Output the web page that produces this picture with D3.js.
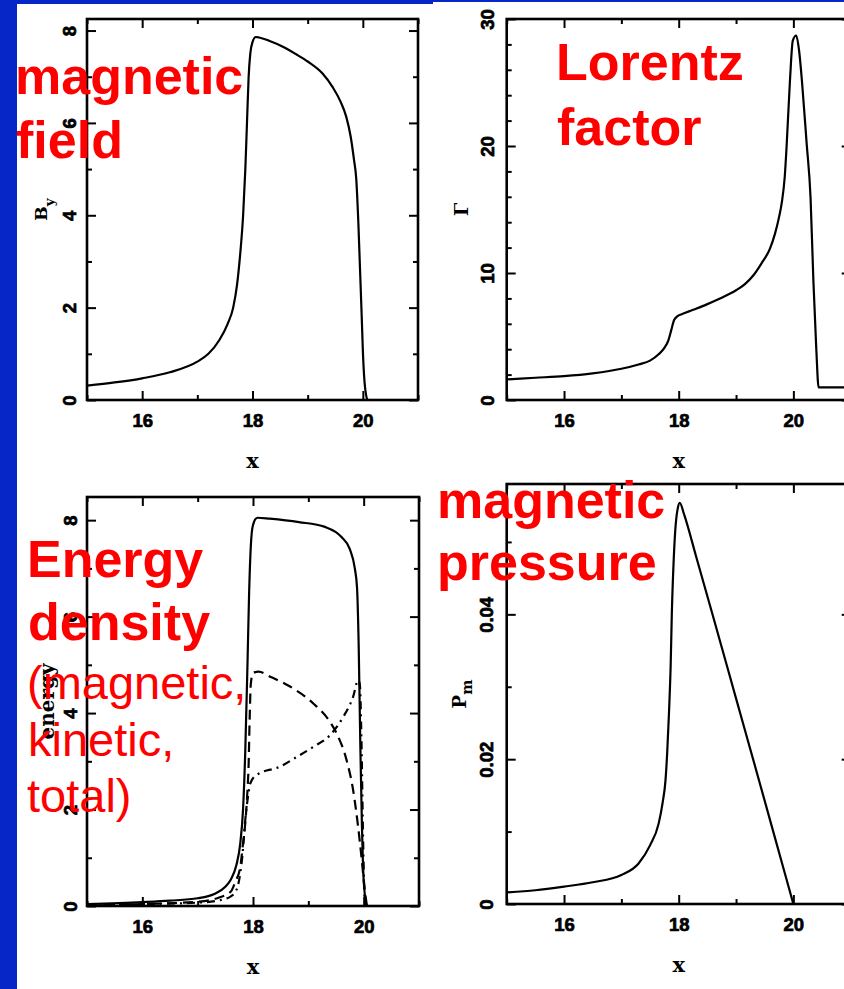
<!DOCTYPE html>
<html>
<head>
<meta charset="utf-8">
<script src="https://cdn.jsdelivr.net/npm/d3@7"></script>
<style>
  body { margin: 0; background: #fff; }
  svg { display: block; }
</style>
</head>
<body>
<div id="chart"></div>
<script>
// --- data ---
// magnetic field B_y
const byX      = [15.0, 15.5, 16.0, 16.5, 17.0, 17.2, 17.4, 17.55, 17.65, 17.72, 17.78, 17.83, 17.87, 17.9, 17.93, 17.96, 18.0, 18.06, 18.12, 18.3, 18.55, 18.8, 19.0, 19.27, 19.45, 19.6, 19.7, 19.78, 19.84, 19.88, 19.92, 19.95, 19.98, 20.0, 20.03, 20.06, 20.09, 21.0];
const byValues = [0.31, 0.38, 0.47, 0.6, 0.83, 1.0, 1.3, 1.65, 2.0, 2.5, 3.2, 4.0, 5.0, 6.0, 7.0, 7.5, 7.75, 7.86, 7.85, 7.78, 7.65, 7.48, 7.33, 7.07, 6.78, 6.45, 6.13, 5.7, 5.2, 4.8, 3.8, 2.8, 1.8, 1.08, 0.4, 0.1, 0.0, 0.0];

// Lorentz factor Gamma
const gammaX      = [15.0, 15.5, 16.0, 16.5, 17.0, 17.3, 17.5, 17.65, 17.75, 17.82, 17.87, 17.92, 17.98, 18.05, 18.25, 18.5, 18.75, 19.0, 19.15, 19.3, 19.45, 19.59, 19.68, 19.75, 19.8, 19.85, 19.88, 19.94, 19.99, 20.05, 20.1, 20.15, 20.23, 20.3, 20.35, 20.4, 20.44, 21.0];
const gammaValues = [1.62, 1.75, 1.88, 2.1, 2.46, 2.8, 3.1, 3.6, 4.1, 4.7, 5.5, 6.3, 6.6, 6.75, 7.1, 7.55, 8.05, 8.64, 9.1, 9.8, 10.8, 11.9, 13.1, 14.4, 15.6, 17.6, 19.8, 25.1, 28.3, 28.7, 27.5, 25.1, 20.3, 15.9, 9.3, 4.0, 1.0, 1.0];

// energy densities: total (solid), magnetic (dashed), kinetic (dash-dot)
const totalX      = [15.0, 16.0, 16.5, 17.0, 17.3, 17.5, 17.6, 17.7, 17.77, 17.82, 17.86, 17.9, 17.93, 17.96, 18.0, 18.08, 18.3, 18.83, 19.3, 19.6, 19.75, 19.84, 19.88, 19.91, 19.94, 19.97, 20.0, 20.06, 21.0];
const totalEnergy = [0.04, 0.08, 0.11, 0.16, 0.25, 0.4, 0.55, 0.85, 1.3, 2.0, 3.2, 5.0, 6.5, 7.45, 7.9, 8.05, 8.03, 7.96, 7.86, 7.65, 7.4, 7.0, 6.6, 5.4, 3.3, 1.6, 0.54, 0.0, 0.0];

const magX      = [15.0, 16.0, 17.0, 17.4, 17.6, 17.68, 17.77, 17.82, 17.86, 17.9, 17.92, 17.94, 17.96, 18.0, 18.1, 18.3, 18.67, 19.09, 19.39, 19.51, 19.69, 19.81, 19.9, 19.96, 20.02, 20.06];
const magEnergy = [0.02, 0.04, 0.09, 0.18, 0.3, 0.5, 0.81, 1.3, 1.71, 2.4, 2.9, 3.9, 4.6, 4.83, 4.86, 4.76, 4.55, 4.2, 3.82, 3.58, 3.03, 2.4, 1.64, 1.02, 0.33, 0.0];

const kinX      = [15.0, 16.0, 17.0, 17.4, 17.6, 17.7, 17.8, 17.87, 17.92, 17.95, 18.07, 18.49, 18.79, 19.09, 19.39, 19.63, 19.81, 19.9, 19.93, 19.96, 19.99, 20.02, 20.04];
const kinEnergy = [0.02, 0.04, 0.07, 0.12, 0.2, 0.33, 0.95, 1.9, 2.35, 2.54, 2.72, 2.89, 3.09, 3.3, 3.54, 3.92, 4.34, 4.68, 4.6, 3.44, 1.37, 0.1, 0.0];

// magnetic pressure P_m
const pmX      = [15.0, 15.5, 16.0, 16.5, 17.0, 17.3, 17.5, 17.65, 17.72, 17.77, 17.8, 17.83, 17.86, 17.88, 17.91, 17.94, 17.98, 18.02, 18.09, 18.3, 18.6, 19.0, 19.4, 19.8, 20.0];
const pmValues = [0.0016, 0.0019, 0.0024, 0.003, 0.004, 0.0056, 0.0081, 0.0111, 0.014, 0.0171, 0.021, 0.0263, 0.033, 0.0401, 0.047, 0.0516, 0.0545, 0.0554, 0.0539, 0.0481, 0.0397, 0.0284, 0.0171, 0.0057, 0.0];

// ticks
const xMajorTicks = [16, 18, 20];
const xMinorTicks = [15, 17, 19, 21];
const byTicks = [0, 2, 4, 6, 8], byMinor = [1, 3, 5, 7];
const gammaTicks = [0, 10, 20, 30], gammaMinor = [2, 4, 6, 8, 12, 14, 16, 18, 22, 24, 26, 28];
const energyTicks = [0, 2, 4, 6, 8], energyMinor = [1, 3, 5, 7];
const pmTicks = [0, 0.02, 0.04], pmMinor = [0.01, 0.03, 0.05];

const width = 844, height = 989;
const blue = "#0626c8";
const tickFont = "'Liberation Sans', Arial, sans-serif";
const labelFont = "'DejaVu Serif', serif";

const svg = d3.select("#chart").append("svg")
  .attr("width", width)
  .attr("height", height);

svg.append("rect").attr("width", width).attr("height", height).attr("fill", "#fff");

// slide background edges
svg.append("rect").attr("x", 0).attr("y", 0).attr("width", 17).attr("height", height).attr("fill", blue);
svg.append("rect").attr("x", 0).attr("y", 0).attr("width", 433).attr("height", 4).attr("fill", blue);
svg.append("rect").attr("x", 433).attr("y", 0).attr("width", width - 433).attr("height", 2).attr("fill", blue);

function styleAxis(g) {
  g.select(".domain").remove();
  g.selectAll(".tick line").attr("stroke", "#000").attr("stroke-width", 2);
  g.attr("font-family", tickFont).attr("font-size", 18.5).attr("font-weight", "bold");
  g.selectAll("text").attr("fill", "#000").attr("stroke", "#000").attr("stroke-width", 0.7);
}

function drawPanel(p, id) {
  const x = d3.scaleLinear().domain([15, 21]).range([p.left, p.right]);
  const y = d3.scaleLinear().domain([0, p.yMax]).range([p.bottom, p.top]);
  const g = svg.append("g");

  // bottom axis, labels + major / minor ticks
  g.append("g").attr("transform", `translate(0,${p.bottom})`)
    .call(d3.axisBottom(x).tickValues(xMajorTicks).tickSizeInner(-9).tickSizeOuter(0).tickPadding(13.5).tickFormat(d3.format("d")))
    .call(styleAxis);
  g.append("g").attr("transform", `translate(0,${p.bottom})`)
    .call(d3.axisBottom(x).tickValues(xMinorTicks).tickSizeInner(-5).tickSizeOuter(0).tickFormat(""))
    .call(styleAxis);
  // top axis
  g.append("g").attr("transform", `translate(0,${p.top})`)
    .call(d3.axisTop(x).tickValues(xMajorTicks).tickSizeInner(-9).tickSizeOuter(0).tickFormat(""))
    .call(styleAxis);
  g.append("g").attr("transform", `translate(0,${p.top})`)
    .call(d3.axisTop(x).tickValues(xMinorTicks).tickSizeInner(-5).tickSizeOuter(0).tickFormat(""))
    .call(styleAxis);

  // left axis with rotated labels
  const left = g.append("g").attr("transform", `translate(${p.left},0)`)
    .call(d3.axisLeft(y).tickValues(p.yMajor).tickSizeInner(-9).tickSizeOuter(0).tickFormat(p.yFormat))
    .call(styleAxis);
  left.selectAll("text")
    .attr("transform", "rotate(-90)")
    .attr("x", 0)
    .attr("y", -p.tickLabelOffset)
    .attr("dy", "0.36em")
    .attr("text-anchor", "middle");
  g.append("g").attr("transform", `translate(${p.left},0)`)
    .call(d3.axisLeft(y).tickValues(p.yMinor).tickSizeInner(-5).tickSizeOuter(0).tickFormat(""))
    .call(styleAxis);
  // right axis
  g.append("g").attr("transform", `translate(${p.right},0)`)
    .call(d3.axisRight(y).tickValues(p.yMajor).tickSizeInner(-9).tickSizeOuter(0).tickFormat(""))
    .call(styleAxis);
  g.append("g").attr("transform", `translate(${p.right},0)`)
    .call(d3.axisRight(y).tickValues(p.yMinor).tickSizeInner(-5).tickSizeOuter(0).tickFormat(""))
    .call(styleAxis);

  // frame
  g.append("rect")
    .attr("x", p.left).attr("y", p.top)
    .attr("width", p.right - p.left).attr("height", p.bottom - p.top)
    .attr("fill", "none").attr("stroke", "#000").attr("stroke-width", 2.6);

  // axis titles
  g.append("text")
    .attr("x", (p.left + p.right) / 2)
    .attr("y", p.bottom + 62)
    .attr("dy", "0.3em")
    .attr("text-anchor", "middle")
    .attr("font-family", labelFont).attr("font-weight", "bold").attr("font-size", 21)
    .text("x");

  const yt = g.append("text")
    .attr("transform", `translate(${p.left - p.yTitleOffset},${(p.top + p.bottom) / 2}) rotate(-90)`)
    .attr("text-anchor", "middle")
    .attr("font-family", labelFont).attr("font-weight", "bold").attr("font-size", p.yTitleSize)
    .text(p.yTitle);
  if (p.ySub) {
    yt.append("tspan").attr("dy", p.subShift).attr("font-size", p.yTitleSize * 0.8).text(p.ySub);
  }

  // clip to frame
  g.append("clipPath").attr("id", id)
    .append("rect")
    .attr("x", p.left).attr("y", p.top - 2)
    .attr("width", p.right - p.left).attr("height", p.bottom - p.top + 2);

  const plot = g.append("g").attr("clip-path", `url(#${id})`);
  return { x, y, plot };
}

function addCurve(panel, xs, vs, dash) {
  const line = d3.line()
    .x(d => panel.x(d[0]))
    .y(d => panel.y(d[1]))
    .curve(d3.curveMonotoneX);
  panel.plot.append("path")
    .datum(d3.zip(xs, vs))
    .attr("fill", "none")
    .attr("stroke", "#000")
    .attr("stroke-width", 2.2)
    .attr("stroke-linejoin", "round")
    .attr("stroke-dasharray", dash || null)
    .attr("d", line);
}

const pBy = drawPanel({
  left: 87, right: 418, top: 19, bottom: 400, yMax: 8.25,
  yMajor: byTicks, yMinor: byMinor, yFormat: d3.format("d"), tickLabelOffset: 18,
  yTitle: "B", ySub: "y", yTitleOffset: 40, yTitleSize: 17, subShift: 7
}, "clip-by");
addCurve(pBy, byX, byValues);

const pGamma = drawPanel({
  left: 506.7, right: 850.7, top: 19, bottom: 400, yMax: 30,
  yMajor: gammaTicks, yMinor: gammaMinor, yFormat: d3.format("d"), tickLabelOffset: 19.5,
  yTitle: "Γ", yTitleOffset: 39, yTitleSize: 19
}, "clip-gamma");
addCurve(pGamma, gammaX, gammaValues);

const pEnergy = drawPanel({
  left: 87, right: 419, top: 497, bottom: 906, yMax: 8.48,
  yMajor: energyTicks, yMinor: energyMinor, yFormat: d3.format("d"), tickLabelOffset: 17,
  yTitle: "energy", yTitleOffset: 33, yTitleSize: 20
}, "clip-energy");
addCurve(pEnergy, totalX, totalEnergy);
addCurve(pEnergy, magX, magEnergy, "10,6");
addCurve(pEnergy, kinX, kinEnergy, "8,5,2,5");

const pPm = drawPanel({
  left: 506.7, right: 850.7, top: 484, bottom: 904, yMax: 0.058,
  yMajor: pmTicks, yMinor: pmMinor, yFormat: d => d === 0 ? "0" : d3.format(".2f")(d), tickLabelOffset: 20,
  yTitle: "P", ySub: "m", yTitleOffset: 41, yTitleSize: 18, subShift: 6
}, "clip-pm");
addCurve(pPm, pmX, pmValues);

// red slide annotations
const notes = [
  { text: "magnetic", x: 15, y: 94, bold: true },
  { text: "field", x: 16, y: 158, bold: true },
  { text: "Lorentz", x: 556, y: 80, bold: true },
  { text: "factor", x: 557, y: 145, bold: true },
  { text: "Energy", x: 27, y: 577, bold: true },
  { text: "density", x: 28, y: 640, bold: true },
  { text: "(magnetic,", x: 27, y: 699, bold: false },
  { text: "kinetic,", x: 28, y: 756, bold: false },
  { text: "total)", x: 27, y: 812, bold: false }
  , { text: "magnetic", x: 437, y: 518, bold: true },
  { text: "pressure", x: 437, y: 580, bold: true }
];

svg.append("g")
  .selectAll("text")
  .data(notes)
  .enter()
  .append("text")
  .attr("x", d => d.x)
  .attr("y", d => d.y)
  .attr("fill", "#ff0000")
  .attr("font-family", "'Liberation Sans', Arial, sans-serif")
  .attr("font-weight", d => d.bold ? "bold" : "normal")
  .attr("font-size", d => d.bold ? 52 : 47)
  .text(d => d.text);
</script>
</body>
</html>
